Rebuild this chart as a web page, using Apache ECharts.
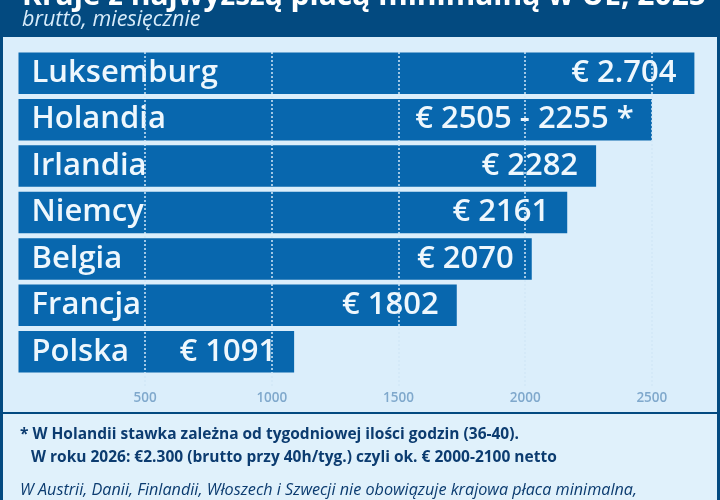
<!DOCTYPE html>
<html><head><meta charset="utf-8">
<script src="https://cdn.jsdelivr.net/npm/echarts@6/dist/echarts.min.js"></script>
<style>html,body{margin:0;padding:0;background:#034a80}#c{width:720px;height:500px}</style>
</head><body><div id="c"></div><script>
const titleText = 'Kraje z najwyższą płacą minimalną w UE, 2025';
const subtitleText = 'brutto, miesięcznie';
const categories = ['Luksemburg', 'Holandia', 'Irlandia', 'Niemcy', 'Belgia', 'Francja', 'Polska'];
const barValues = [2668, 2500, 2280, 2166, 2026, 1730, 1088];
const valueLabels = ['€ 2.704', '€ 2505 - 2255 *', '€ 2282', '€ 2161', '€ 2070', '€ 1802', '€ 1091'];
const axisMin = 0, axisMax = 3000, axisInterval = 500;
const footnote1 = '* W Holandii stawka zależna od tygodniowej ilości godzin (36-40).';
const footnote2 = 'W roku 2026: €2.300 (brutto przy 40h/tyg.) czyli ok. € 2000-2100 netto';
const footnote3 = 'W Austrii, Danii, Finlandii, Włoszech i Szwecji nie obowiązuje krajowa płaca minimalna,';

const FONT = '"Open Sans", "Noto Sans", sans-serif';
const chart = echarts.init(document.getElementById('c'), null, { renderer: 'canvas' });
const option = {
  backgroundColor: '#034a80',
  animation: false,
  graphic: [
    { type: 'rect', z: 0, shape: { x: 3, y: 37, width: 714, height: 375 }, style: { fill: '#dbeefb' } },
    { type: 'rect', z: 0, shape: { x: 3, y: 414, width: 714, height: 86 }, style: { fill: '#e0f1fb' } },
    { type: 'text', z: 1, x: 22, y: -4, style: { text: titleText, fill: '#ffffff', font: 'bold 30px ' + FONT, verticalAlign: 'middle' } },
    { type: 'text', z: 1, x: 22, y: 20, style: { text: subtitleText, fill: '#d8ecfa', font: 'italic 21.5px ' + FONT, verticalAlign: 'middle' } },
    { type: 'text', z: 1, x: 20, y: 435, style: { text: footnote1, fill: '#0c3c70', font: 'bold 15.5px ' + FONT, verticalAlign: 'middle' } },
    { type: 'text', z: 1, x: 31, y: 458, style: { text: footnote2, fill: '#0c3c70', font: 'bold 15.5px ' + FONT, verticalAlign: 'middle' } },
    { type: 'text', z: 1, x: 20, y: 490, style: { text: footnote3, fill: '#0c3c70', font: 'italic 16.2px ' + FONT, verticalAlign: 'middle' } }
  ],
  grid: [
    { left: 18.5, top: 50, width: 760, height: 325, outerBoundsMode: 'none', containLabel: false },
    { left: 18.5, top: 52, width: 760, height: 335, outerBoundsMode: 'none', containLabel: false }
  ],
  xAxis: [
    { gridIndex: 0, type: 'value', min: axisMin, max: axisMax, interval: axisInterval, show: false },
    { gridIndex: 1, type: 'value', min: axisMin, max: axisMax, interval: axisInterval, z: 10,
      axisLine: { show: false }, axisTick: { show: false },
      axisLabel: { margin: 4, color: '#7fa8cc', fontSize: 13.5, fontWeight: 600, fontFamily: FONT, showMinLabel: false, showMaxLabel: false, formatter: v => String(v) },
      splitLine: { show: true, showMinLine: false, showMaxLine: false, lineStyle: { color: '#d2e7f7', type: [2, 2], width: 1.5 } } }
  ],
  yAxis: [
    { gridIndex: 0, type: 'category', data: categories, inverse: true, show: false },
    { gridIndex: 1, type: 'value', show: false }
  ],
  series: [
    { type: 'bar', xAxisIndex: 0, yAxisIndex: 0, data: barValues, barWidth: 41.5,
      itemStyle: { color: '#0867ae' },
      label: { show: true, position: 'insideLeft', distance: 13, formatter: '{b}', color: '#eef7fd', fontSize: 31, fontWeight: 600, fontFamily: FONT } },
    { type: 'bar', xAxisIndex: 0, yAxisIndex: 0, data: barValues, barWidth: 41.5, barGap: '-100%',
      itemStyle: { color: 'rgba(0,0,0,0)' },
      label: { show: true, position: 'insideRight', distance: 18, formatter: p => valueLabels[p.dataIndex], color: '#eef7fd', fontSize: 31, fontWeight: 600, fontFamily: FONT } }
  ]
};
chart.setOption(option);
</script></body></html>
